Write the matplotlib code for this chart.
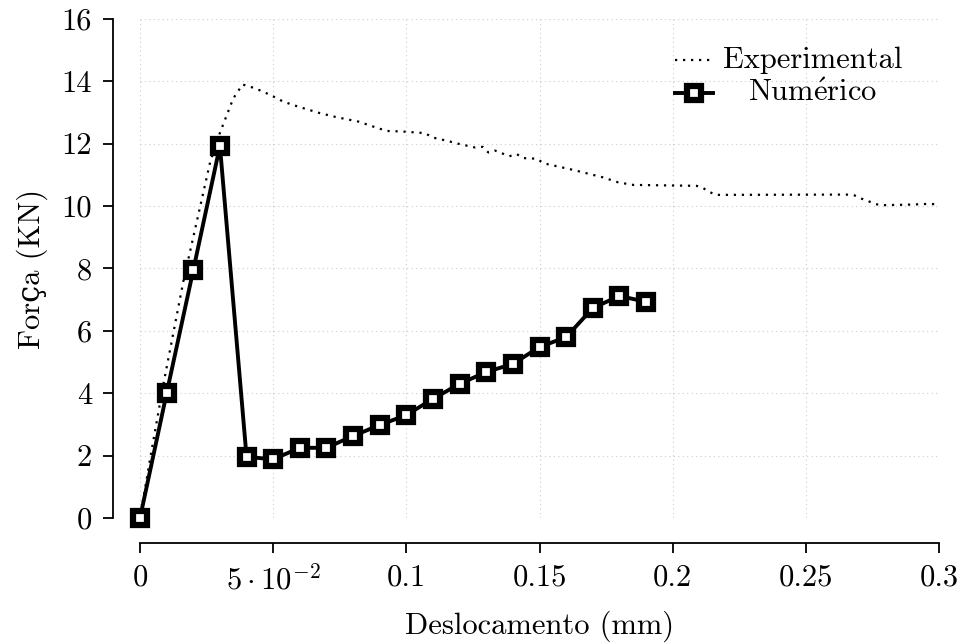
import numpy as np
import matplotlib
matplotlib.use("Agg")
import matplotlib.pyplot as plt
from matplotlib.lines import Line2D

plt.rcParams['font.family'] = ['cmr10', 'DejaVu Serif']
plt.rcParams['mathtext.fontset'] = 'cm'
plt.rcParams['axes.unicode_minus'] = False
plt.rcParams['axes.formatter.use_mathtext'] = True

# numerical model (x in mm, force in KN)
num_x = [0.0, 0.01, 0.02, 0.03, 0.04, 0.05, 0.06, 0.07, 0.08, 0.09,
         0.10, 0.11, 0.12, 0.13, 0.14, 0.15, 0.16, 0.17, 0.18, 0.19]
num_y = [0.0, 4.0, 7.95, 11.93, 1.96, 1.88, 2.25, 2.25, 2.63, 2.98,
         3.3, 3.82, 4.3, 4.68, 4.94, 5.48, 5.8, 6.73, 7.12, 6.93]

# experimental curve
exp_x = [0.0, 0.004, 0.0088, 0.0163, 0.0263, 0.030, 0.035, 0.0385,
         0.0432, 0.0488, 0.0538, 0.0594, 0.0676, 0.0739, 0.082, 0.0876,
         0.0926, 0.0989, 0.107, 0.1099, 0.115, 0.120, 0.1258, 0.1287,
         0.1308, 0.1333, 0.1387, 0.1414, 0.1439, 0.1489, 0.1517, 0.1627,
         0.1739, 0.1796, 0.1852, 0.209, 0.2112, 0.2137, 0.2162, 0.2653,
         0.2684, 0.2709, 0.2734, 0.2763, 0.2791, 0.290, 0.2956, 0.2998]
exp_y = [0.0, 2.0, 4.3, 7.6, 11.4, 12.35, 13.45, 13.9,
         13.78, 13.57, 13.35, 13.19, 12.98, 12.85, 12.71, 12.55,
         12.41, 12.39, 12.34, 12.2, 12.1, 11.99, 11.88, 11.9,
         11.72, 11.78, 11.6, 11.67, 11.54, 11.52, 11.37, 11.16,
         10.92, 10.76, 10.68, 10.65, 10.59, 10.46, 10.36, 10.37,
         10.34, 10.24, 10.16, 10.06, 10.03, 10.05, 10.07, 10.06]

xticks = [0, 0.05, 0.1, 0.15, 0.2, 0.25, 0.3]
xticklabels = ['0', r'$5\cdot10^{-2}$', '0.1', '0.15', '0.2', '0.25', '0.3']
yticks = list(range(0, 17, 2))

fs = 22
fig = plt.figure(figsize=(9.61, 6.44), dpi=100)
ax = fig.add_axes([0.1457, 0.1957, 0.9771 - 0.1457, 0.9705 - 0.1957])

dotted = (0, (1, 2.6))
num_style = dict(color='black', lw=2.8, marker='s', markersize=9.5,
                 markerfacecolor='white', markeredgecolor='black',
                 markeredgewidth=4.5)

ax.plot(exp_x, exp_y, color='black', lw=1.6, linestyle=dotted, clip_on=False)
ax.plot(num_x, num_y, clip_on=False, zorder=3, **num_style)

ax.set_xlim(0, 0.3)
ax.set_ylim(0, 16)
ax.set_xticks(xticks)
ax.set_xticklabels(xticklabels)
ax.set_yticks(yticks)
ax.set_yticklabels([str(v) for v in yticks])
ax.grid(True, color='#cccccc', linestyle=(0, (1, 3)), lw=0.8)
ax.set_axisbelow(True)

for s in ['top', 'right']:
    ax.spines[s].set_visible(False)
ax.spines['left'].set_position(('outward', 19.5))
ax.spines['bottom'].set_position(('outward', 18))
for s in ['left', 'bottom']:
    ax.spines[s].set_linewidth(1.3)
ax.tick_params(direction='out', length=7, width=1.3, labelsize=fs, pad=8)

ax.set_xlabel('Deslocamento (mm)', fontsize=fs, labelpad=11)
ax.set_ylabel('Força (KN)', fontsize=fs, labelpad=10)

# legend drawn by hand: text centered like the original
tr = ax.transAxes
ax.add_line(Line2D([0.67, 0.717], [0.918, 0.918], transform=tr, color='black',
                   lw=1.6, linestyle=dotted))
ax.add_line(Line2D([0.67, 0.6935, 0.717], [0.852, 0.852, 0.852], transform=tr,
                   markevery=[1], **num_style))
ax.text(0.842, 0.918, 'Experimental', transform=tr, fontsize=fs,
        ha='center', va='center')
ax.text(0.842, 0.852, r'Num$\mathrm{\acute{e}}$rico', transform=tr, fontsize=fs,
        ha='center', va='center')

fig.savefig('out.png', dpi=100)
